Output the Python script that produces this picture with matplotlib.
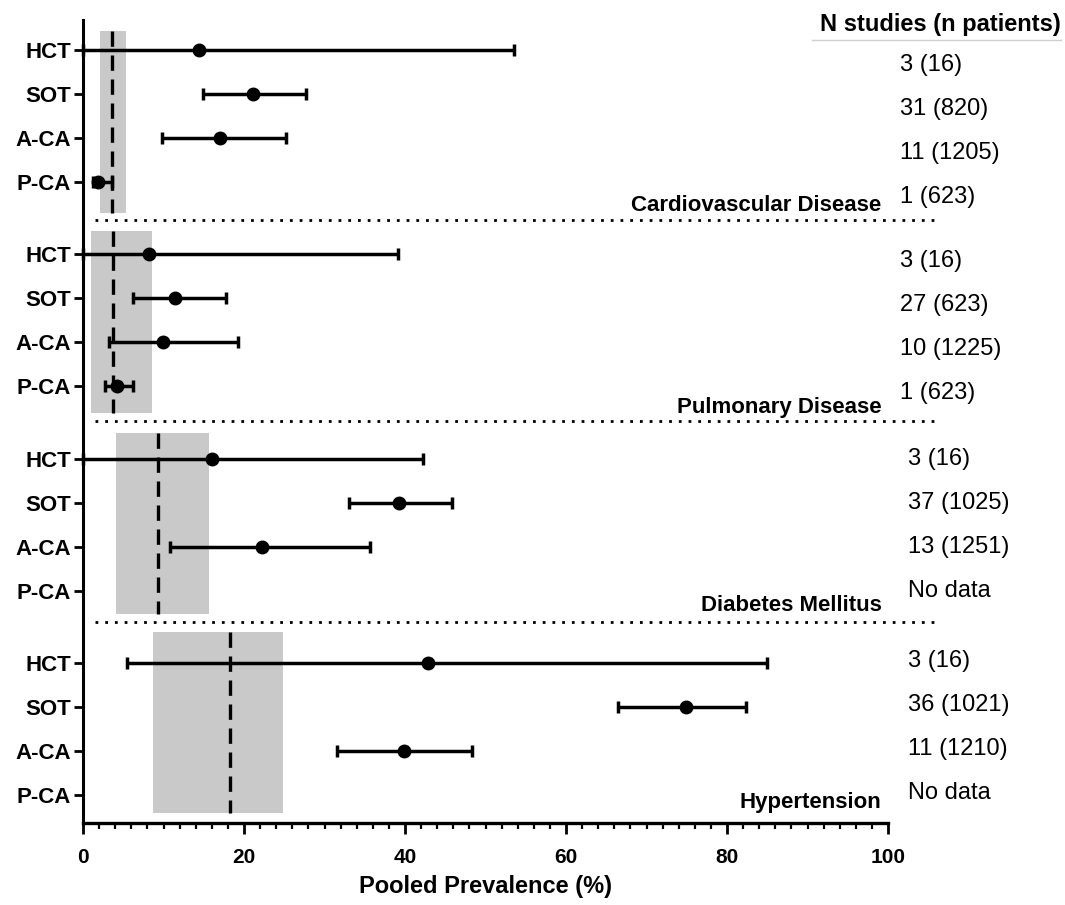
import numpy as np
import matplotlib
matplotlib.use("Agg")
import matplotlib.pyplot as plt
from matplotlib.ticker import MultipleLocator

plt.rcParams['font.family'] = ['Liberation Sans', 'DejaVu Sans']

# data
groups = ['HCT', 'SOT', 'A-CA', 'P-CA']
diseases = ['Cardiovascular Disease', 'Pulmonary Disease', 'Diabetes Mellitus', 'Hypertension']
nan = np.nan
est = [[14.4, 21.1, 17.0, 1.9],
       [8.2, 11.4, 9.9, 4.2],
       [16.0, 39.3, 22.2, nan],
       [42.9, 74.9, 39.9, nan]]
low = [[0.0, 14.9, 9.8, 1.2],
       [0.0, 6.2, 3.2, 2.7],
       [0.0, 33.0, 10.8, nan],
       [5.5, 66.5, 31.5, nan]]
high = [[53.5, 27.7, 25.2, 3.6],
        [39.1, 17.8, 19.2, 6.2],
        [42.2, 45.8, 35.7, nan],
        [85.0, 82.3, 48.3, nan]]
ref_mid = [3.6, 3.7, 9.3, 18.3]
ref_low = [2.1, 1.0, 4.05, 8.7]
ref_high = [5.3, 8.6, 15.7, 24.8]
counts = [['3 (16)', '31 (820)', '11 (1205)', '1 (623)'],
          ['3 (16)', '27 (623)', '10 (1225)', '1 (623)'],
          ['3 (16)', '37 (1025)', '13 (1251)', 'No data'],
          ['3 (16)', '36 (1021)', '11 (1210)', 'No data']]

# layout (row units)
panel_step = 4.643
band_top = [-0.43, -0.53, -0.58, -0.70]
band_bot = [3.70, 3.61, 3.53, 3.41]
title_dy = [3.54, 3.49, 3.33, 3.17]
sep_dy = [0, -0.78, -0.86, -0.93]
text_dy = [0.35, 0.15, 0.0, -0.05]
text_x = [101.5, 101.5, 102.5, 102.5]

fig = plt.figure(figsize=(10.65, 9.05), dpi=100)
ax = fig.add_axes([83/1065, 1-823/905, (888-83)/1065, (823-20)/905])

ytick_pos = []
ytick_lab = []
for p in range(4):
     base = p*panel_step
     # reference band + dashed line
     y0, y1 = base+band_top[p], base+band_bot[p]
     ax.fill_betweenx([y0, y1], ref_low[p], ref_high[p], color='#c9c9c9', lw=0, zorder=1)
     ax.plot([ref_mid[p], ref_mid[p]], [y0, y1], color='black', lw=2.4,
             ls=(0, (4.6, 2.6)), zorder=2)
     ys = base + np.arange(4)
     e = np.array(est[p]); lo = np.array(low[p]); hi = np.array(high[p])
     ok = ~np.isnan(e)
     ax.errorbar(e[ok], ys[ok], xerr=[e[ok]-lo[ok], hi[ok]-e[ok]], fmt='o', color='black',
                 ms=9, lw=2.5, capsize=4.5, capthick=2.5, zorder=4, clip_on=False)
     ytick_pos += list(ys)
     ytick_lab += groups
     for r in range(4):
          ax.text(text_x[p], ys[r]+text_dy[p], counts[p][r], fontsize=17, va='center', ha='left',
                  clip_on=False)
     ax.text(99.2, base+title_dy[p], diseases[p], fontsize=16, fontweight='bold', ha='right',
             va='center')
     if p > 0:
          ysep = base+sep_dy[p]
          ax.plot([1.5, 105.8], [ysep, ysep], color='black', lw=2.0, ls=(0, (1, 2.5)),
                  clip_on=False, zorder=3)

ax.text(121.5, -0.57, 'N studies (n patients)', fontsize=17, fontweight='bold', ha='right',
        va='center', clip_on=False)
ax.plot([90.5, 121.5], [-0.22, -0.22], color='#d0d0d0', lw=1.0, clip_on=False)

ax.set_xlim(0, 100)
ax.set_ylim(17.57, -0.68)
ax.set_yticks(ytick_pos)
ax.set_yticklabels(ytick_lab, fontsize=16, fontweight='bold')
ax.xaxis.set_major_locator(MultipleLocator(20))
ax.xaxis.set_minor_locator(MultipleLocator(2))
for lab in ax.get_xticklabels():
     lab.set_fontweight('bold')
ax.tick_params(axis='x', which='major', length=8, width=2, labelsize=15, pad=10)
ax.tick_params(axis='x', which='minor', length=4.5, width=1.6)
ax.tick_params(axis='y', length=6.5, width=2, pad=2)
ax.spines['top'].set_visible(False)
ax.spines['right'].set_visible(False)
ax.spines['left'].set_linewidth(2.2)
ax.spines['bottom'].set_linewidth(2.4)
ax.set_xlabel('Pooled Prevalence (%)', fontsize=17, fontweight='bold', labelpad=6)

plt.savefig('out.png', dpi=100)
